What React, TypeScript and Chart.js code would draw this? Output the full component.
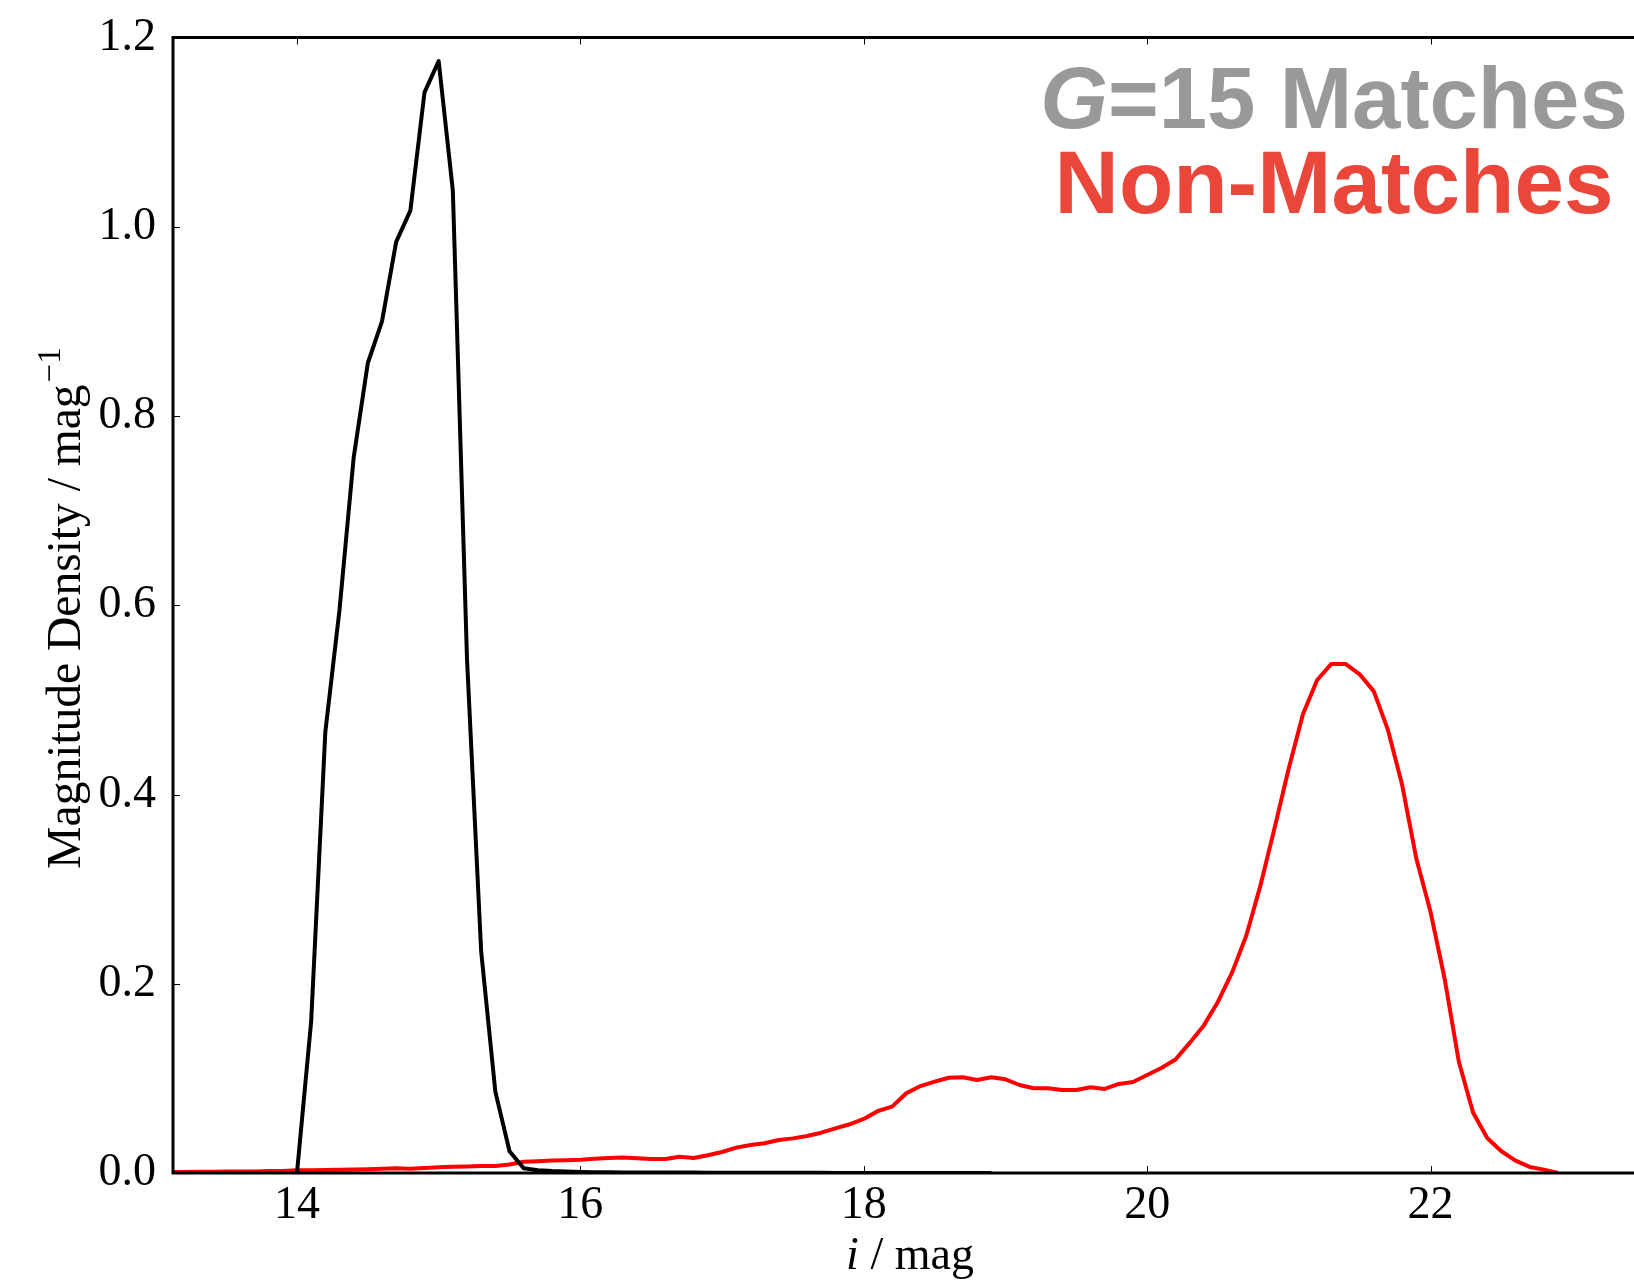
import React, { useEffect, useRef } from "react";
import { Chart, registerables } from "chart.js";

Chart.register(...registerables);

// ---------- data ----------
const matchMags = [
  14.0, 14.1, 14.2, 14.3, 14.4, 14.5, 14.6, 14.7, 14.8, 14.9,
  15.0, 15.1, 15.2, 15.3, 15.4, 15.5, 15.6, 15.7, 15.8, 15.9,
  16.0, 16.1, 16.2, 16.3, 16.4, 16.5, 16.6, 16.7, 16.8, 16.9,
  17.0, 17.1, 17.2, 17.3, 17.4, 17.5, 17.6, 17.7, 17.8, 17.9,
  18.0, 18.1, 18.2, 18.3, 18.4, 18.5, 18.6, 18.7, 18.8, 18.9,
];
const matchDensity = [
  0.0, 0.16, 0.466, 0.595, 0.756, 0.856, 0.9, 0.984, 1.017, 1.142,
  1.175, 1.038, 0.543, 0.234, 0.086, 0.023, 0.005, 0.003, 0.002, 0.0015,
  0.001, 0.0008, 0.0007, 0.0006, 0.0006, 0.0005, 0.0005, 0.0004, 0.0004, 0.0003,
  0.0003, 0.0003, 0.0003, 0.0002, 0.0002, 0.0002, 0.0002, 0.0002, 0.0001, 0.0001,
  0.0001, 0.0001, 0.0001, 0.0001, 0.0001, 0.0001, 0.0001, 0.0001, 0.0001, 0.0001,
];

const nonMatchMags = [
  13.0, 13.1, 13.2, 13.3, 13.4, 13.5, 13.6, 13.7, 13.8, 13.9,
  14.0, 14.1, 14.2, 14.3, 14.4, 14.5, 14.6, 14.7, 14.8, 14.9,
  15.0, 15.1, 15.2, 15.3, 15.4, 15.5, 15.6, 15.7, 15.8, 15.9,
  16.0, 16.1, 16.2, 16.3, 16.4, 16.5, 16.6, 16.7, 16.8, 16.9,
  17.0, 17.1, 17.2, 17.3, 17.4, 17.5, 17.6, 17.7, 17.8, 17.9,
  18.0, 18.1, 18.2, 18.3, 18.4, 18.5, 18.6, 18.7, 18.8, 18.9,
  19.0, 19.1, 19.2, 19.3, 19.4, 19.5, 19.6, 19.7, 19.8, 19.9,
  20.0, 20.1, 20.2, 20.3, 20.4, 20.5, 20.6, 20.7, 20.8, 20.9,
  21.0, 21.1, 21.2, 21.3, 21.4, 21.5, 21.6, 21.7, 21.8, 21.9,
  22.0, 22.1, 22.2, 22.3, 22.4, 22.5, 22.6, 22.7, 22.8, 22.9,
];
const nonMatchDensity = [
  0.001, 0.001, 0.001, 0.0012, 0.0012, 0.0015, 0.0015, 0.0016, 0.002, 0.0022,
  0.0028, 0.003, 0.0032, 0.0035, 0.0038, 0.004, 0.0045, 0.005, 0.0045, 0.0052,
  0.006, 0.0065, 0.007, 0.0074, 0.0075, 0.009, 0.0118, 0.0125, 0.0132, 0.0136,
  0.014, 0.015, 0.0158, 0.0163, 0.0156, 0.0148, 0.0147, 0.0172, 0.0158, 0.0187,
  0.0222, 0.0268, 0.0296, 0.0314, 0.0349, 0.0366, 0.0391, 0.0426, 0.0472, 0.0515,
  0.0571, 0.0655, 0.0701, 0.0842, 0.0919, 0.0965, 0.1007, 0.1011, 0.0983, 0.1011,
  0.099, 0.093, 0.0895, 0.0895, 0.0877, 0.0877, 0.0906, 0.0888, 0.0941, 0.0962,
  0.1036, 0.111, 0.12, 0.1375, 0.156, 0.181, 0.212, 0.251, 0.304, 0.365,
  0.428, 0.485, 0.521, 0.538, 0.538, 0.527, 0.509, 0.468, 0.41, 0.332,
  0.276, 0.205, 0.1175, 0.064, 0.037, 0.023, 0.013, 0.0064, 0.0036, 0.0,
];

const xTickValues = [14, 16, 18, 20, 22];
const xTickLabels = ["14", "16", "18", "20", "22"];
const yTickValues = [0, 0.2, 0.4, 0.6, 0.8, 1.0, 1.2];
const yTickLabels = ["0.0", "0.2", "0.4", "0.6", "0.8", "1.0", "1.2"];

const xMin = 13.125;
const xMax = 23.436;
const yMin = 0;
const yMax = 1.2;

const matchLabelItalic = "G";
const matchLabelRest = "=15 Matches";
const nonMatchLabel = "Non-Matches";

// ---------- styling ----------
const SERIF = "'Liberation Serif', 'Times New Roman', serif";
const SANS = "'Liberation Sans', Arial, sans-serif";

const decorPlugin = {
  id: "decor",
  afterDatasetsDraw(chart: any) {
    const { ctx, chartArea: ca, scales } = chart;
    const xs = scales.x;
    const ys = scales.y;
    ctx.save();

    // inward ticks
    ctx.strokeStyle = "#000";
    ctx.lineWidth = 1;
    ctx.beginPath();
    for (const v of xTickValues) {
      const px = Math.round(xs.getPixelForValue(v)) + 0.5;
      ctx.moveTo(px, ca.bottom);
      ctx.lineTo(px, ca.bottom - 7);
      ctx.moveTo(px, ca.top);
      ctx.lineTo(px, ca.top + 7);
    }
    for (const v of yTickValues) {
      const py = Math.round(ys.getPixelForValue(v)) + 0.5;
      ctx.moveTo(ca.left, py);
      ctx.lineTo(ca.left + 7, py);
    }
    ctx.stroke();

    // spines (left, top, bottom)
    ctx.lineWidth = 3;
    ctx.lineCap = "butt";
    ctx.beginPath();
    ctx.moveTo(ca.left, ca.bottom + 1.5);
    ctx.lineTo(ca.left, ca.top);
    ctx.moveTo(ca.left - 1.5, ca.top);
    ctx.lineTo(ca.right + 10, ca.top);
    ctx.moveTo(ca.left - 1.5, ca.bottom);
    ctx.lineTo(ca.right + 10, ca.bottom);
    ctx.stroke();

    // x title: "i / mag"
    ctx.fillStyle = "#000";
    ctx.textBaseline = "alphabetic";
    ctx.textAlign = "left";
    const fItal = `italic 46px ${SERIF}`;
    const fReg = `46px ${SERIF}`;
    ctx.font = fItal;
    const wi = ctx.measureText("i").width;
    ctx.font = fReg;
    const wr = ctx.measureText(" / mag").width;
    const xc = 910;
    const xb = 1269;
    const sx = xc - (wi + wr) / 2;
    ctx.font = fItal;
    ctx.fillText("i", sx, xb);
    ctx.font = fReg;
    ctx.fillText(" / mag", sx + wi, xb);

    // y title: "Magnitude Density / mag^-1"
    ctx.save();
    ctx.translate(80, 608);
    ctx.rotate(-Math.PI / 2);
    const mainT = "Magnitude Density / mag";
    const supT = "\u22121";
    const fYT = `47.5px ${SERIF}`;
    ctx.font = fYT;
    const wm = ctx.measureText(mainT).width;
    const fSup = `33px ${SERIF}`;
    ctx.font = fSup;
    const ws = ctx.measureText(supT).width;
    const tot = wm + 2 + ws;
    ctx.font = fYT;
    ctx.fillText(mainT, -tot / 2, 0);
    ctx.font = fSup;
    ctx.fillText(supT, -tot / 2 + wm + 2, -20);
    ctx.restore();

    // legend-like labels
    const cx = 1334;
    ctx.font = `italic bold 87px ${SANS}`;
    const wg = ctx.measureText(matchLabelItalic).width;
    ctx.font = `bold 87px ${SANS}`;
    const wrest = ctx.measureText(matchLabelRest).width;
    const gx = cx - (wg + wrest) / 2;
    ctx.fillStyle = "#999999";
    ctx.font = `italic bold 87px ${SANS}`;
    ctx.fillText(matchLabelItalic, gx, 128);
    ctx.font = `bold 87px ${SANS}`;
    ctx.fillText(matchLabelRest, gx + wg, 128);

    ctx.fillStyle = "#EA463A";
    ctx.textAlign = "center";
    ctx.font = `bold 89px ${SANS}`;
    ctx.fillText(nonMatchLabel, cx, 213);

    ctx.restore();
  },
};

export default function App() {
  const ref = useRef<HTMLCanvasElement | null>(null);

  useEffect(() => {
    if (!ref.current) return;
    const matchPts = matchMags.map((m, i) => ({ x: m, y: matchDensity[i] }));
    const nonPts = nonMatchMags.map((m, i) => ({ x: m, y: nonMatchDensity[i] }));

    const chart = new Chart(ref.current, {
      type: "line",
      data: {
        datasets: [
          {
            label: "G=15 Matches",
            data: matchPts,
            borderColor: "#000000",
            borderWidth: 4,
            pointRadius: 0,
            tension: 0,
            fill: false,
            borderJoinStyle: "round",
          },
          {
            label: "Non-Matches",
            data: nonPts,
            borderColor: "#FF0000",
            borderWidth: 4,
            pointRadius: 0,
            tension: 0,
            fill: false,
            borderJoinStyle: "round",
          },
        ],
      },
      options: {
        responsive: false,
        animation: false,
        devicePixelRatio: 1,
        layout: { padding: { top: 37.5, left: 0, right: 0, bottom: 0 } },
        plugins: {
          legend: { display: false },
          tooltip: { enabled: false },
          title: { display: false },
        },
        scales: {
          x: {
            type: "linear",
            min: xMin,
            max: xMax,
            grid: { display: false, drawTicks: false },
            border: { display: false },
            afterBuildTicks: (scale: any) => {
              scale.ticks = xTickValues.map((v) => ({ value: v }));
            },
            afterFit: (scale: any) => {
              scale.height = 108;
              scale.paddingLeft = 0;
              scale.paddingRight = 0;
            },
            ticks: {
              autoSkip: false,
              maxRotation: 0,
              padding: 5,
              color: "#000",
              font: { family: SERIF, size: 46 },
              callback: (_v: any, i: number) => xTickLabels[i],
            },
          },
          y: {
            type: "linear",
            min: yMin,
            max: yMax,
            grid: { display: false, drawTicks: false },
            border: { display: false },
            afterBuildTicks: (scale: any) => {
              scale.ticks = yTickValues.map((v) => ({ value: v }));
            },
            afterFit: (scale: any) => {
              scale.width = 173;
              scale.paddingTop = 0;
              scale.paddingBottom = 0;
            },
            ticks: {
              autoSkip: false,
              padding: 17,
              color: "#000",
              font: { family: SERIF, size: 46 },
              callback: (_v: any, i: number) => yTickLabels[i],
            },
          },
        },
      },
      plugins: [decorPlugin],
    });
    return () => chart.destroy();
  }, []);

  return (
    <div
      style={{
        position: "absolute",
        left: 0,
        top: 0,
        width: 1634,
        height: 1281,
        overflow: "hidden",
        background: "#fff",
      }}
    >
      <canvas ref={ref} width={1634} height={1281} style={{ display: "block" }} />
    </div>
  );
}
